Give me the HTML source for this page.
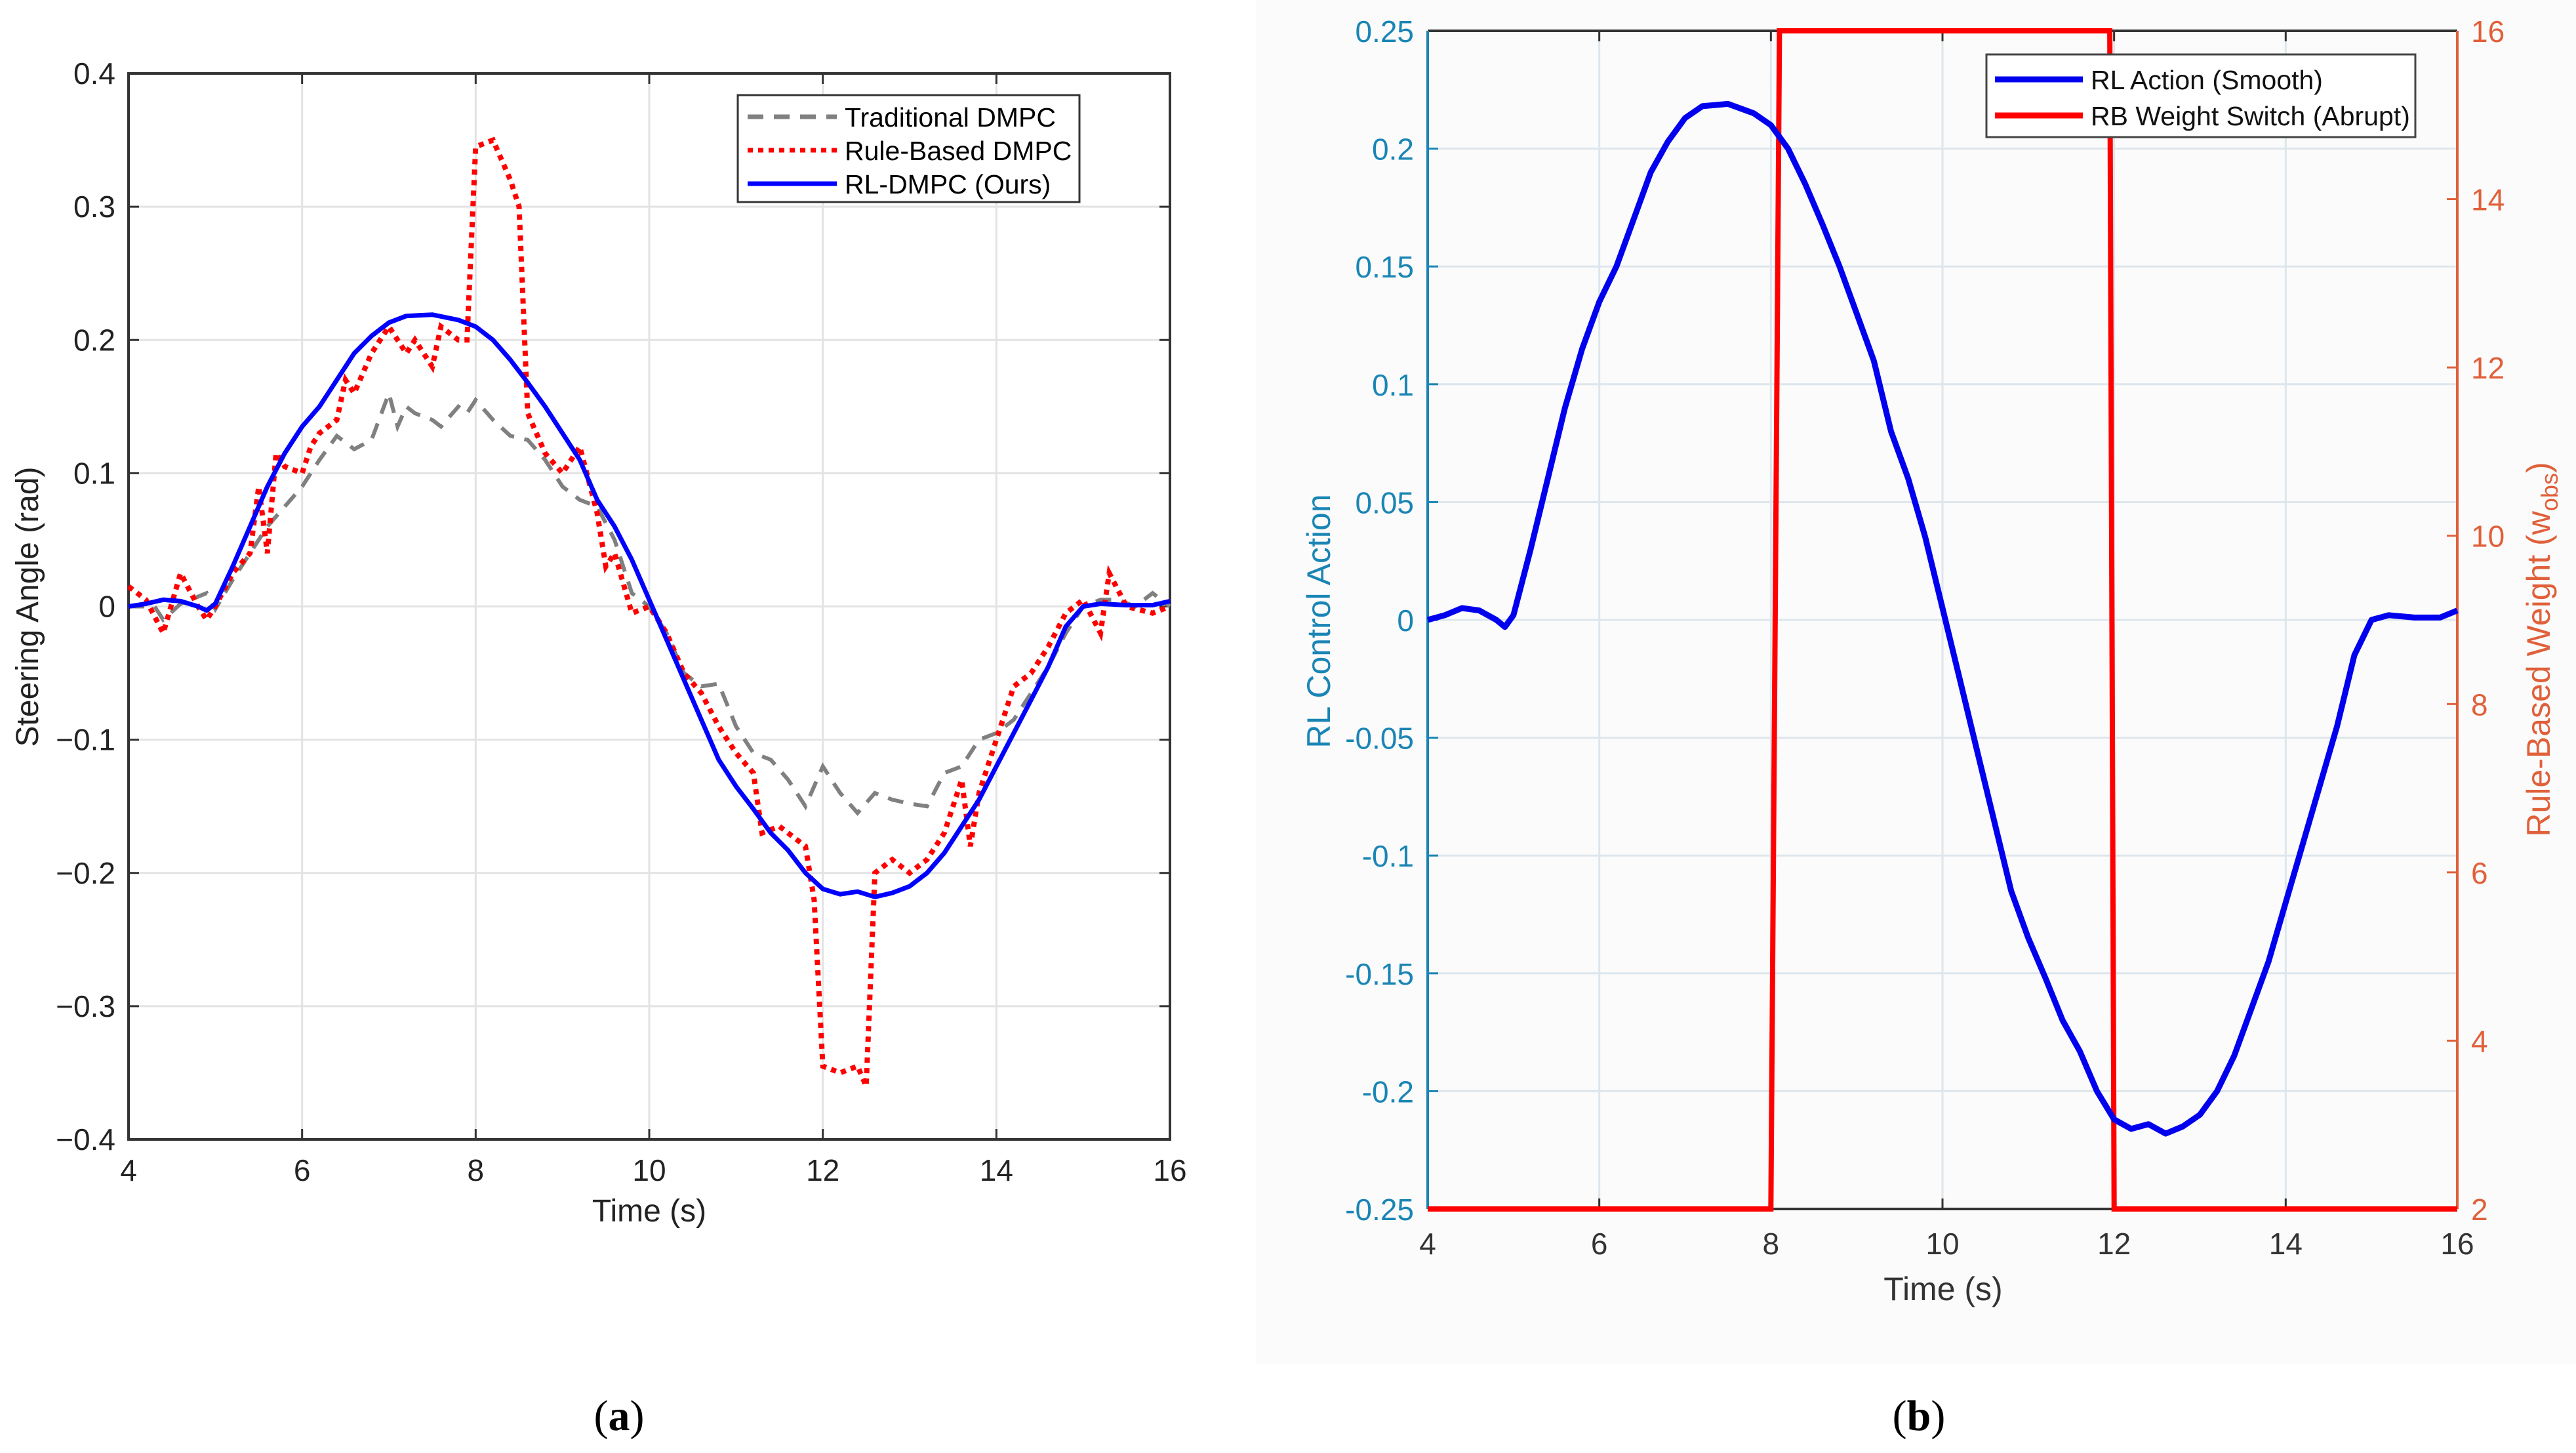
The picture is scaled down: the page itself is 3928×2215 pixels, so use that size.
<!DOCTYPE html>
<html><head><meta charset="utf-8"><style>
html,body{margin:0;padding:0;background:#fff}
svg{display:block;font-family:"Liberation Sans",Arial,sans-serif}
</style></head><body>
<svg id="fig" width="3928" height="2215" viewBox="0 0 3928 2215">
<rect x="0" y="0" width="3928" height="2215" fill="#fff"/>
<rect x="1915" y="0" width="2013" height="2080" fill="#fbfbfb"/>
<g id="pa"></g>
<g id="pb"></g>
<text x="944" y="2180" font-family="Liberation Serif,serif" font-size="66" text-anchor="middle">(<tspan font-weight="bold">a</tspan>)</text>
<text x="2926" y="2180" font-family="Liberation Serif,serif" font-size="66" text-anchor="middle">(<tspan font-weight="bold">b</tspan>)</text>
</svg>
<script>
// ---- Panel A data ----
const aTicksX = [4,6,8,10,12,14,16];
const aTicksY = [0.4,0.3,0.2,0.1,0,-0.1,-0.2,-0.3,-0.4];
const aTickYLabels = ["0.4","0.3","0.2","0.1","0","\u22120.1","\u22120.2","\u22120.3","\u22120.4"];
const rlT = [4.0,4.2,4.4,4.6,4.8,4.9,5.0,5.2,5.4,5.6,5.8,6.0,6.2,6.4,6.6,6.8,7.0,7.2,7.5,7.8,8.0,8.2,8.4,8.6,8.8,9.0,9.2,9.4,9.6,9.8,10.0,10.2,10.4,10.6,10.8,11.0,11.2,11.4,11.6,11.8,12.0,12.2,12.4,12.6,12.8,13.0,13.2,13.4,13.6,13.8,14.0,14.2,14.4,14.6,14.8,15.0,15.2,15.5,15.8,16.0];
const rlV = [0,0.002,0.005,0.004,0.0,-0.003,0.002,0.03,0.06,0.09,0.115,0.135,0.15,0.17,0.19,0.203,0.213,0.218,0.219,0.215,0.21,0.2,0.185,0.168,0.15,0.13,0.11,0.08,0.06,0.035,0.005,-0.025,-0.055,-0.085,-0.115,-0.135,-0.152,-0.17,-0.183,-0.2,-0.212,-0.216,-0.214,-0.218,-0.215,-0.21,-0.2,-0.185,-0.165,-0.145,-0.12,-0.095,-0.07,-0.045,-0.015,0.0,0.002,0.001,0.001,0.004];
const tradT = [4.0,4.3,4.4,4.6,4.9,5.0,5.2,5.4,5.6,5.8,6.0,6.2,6.4,6.6,6.8,7.0,7.1,7.2,7.3,7.5,7.6,7.8,7.9,8.0,8.2,8.4,8.6,8.8,9.0,9.2,9.4,9.6,9.8,10.0,10.2,10.4,10.6,10.8,11.0,11.2,11.4,11.6,11.8,12.0,12.2,12.4,12.6,12.8,13.0,13.2,13.4,13.6,13.8,14.0,14.2,14.4,14.6,14.8,15.0,15.2,15.4,15.6,15.8,16.0];
const tradV = [0,0.0,-0.01,0.002,0.01,-0.002,0.02,0.04,0.06,0.075,0.09,0.11,0.128,0.118,0.125,0.16,0.135,0.15,0.145,0.14,0.135,0.15,0.145,0.155,0.14,0.128,0.125,0.11,0.09,0.08,0.075,0.05,0.01,0.0,-0.02,-0.05,-0.06,-0.058,-0.09,-0.11,-0.115,-0.13,-0.15,-0.12,-0.14,-0.155,-0.14,-0.145,-0.148,-0.15,-0.125,-0.12,-0.1,-0.095,-0.085,-0.065,-0.045,-0.02,0.0,0.005,0.005,0.0,0.01,0.0];
const rbT = [4.0,4.2,4.4,4.6,4.8,4.9,5.0,5.2,5.4,5.5,5.6,5.7,5.8,6.0,6.1,6.2,6.4,6.5,6.6,6.8,7.0,7.2,7.3,7.5,7.6,7.8,7.9,8.0,8.2,8.4,8.5,8.6,8.8,9.0,9.2,9.4,9.5,9.6,9.8,10.0,10.2,10.4,10.6,10.8,11.0,11.2,11.3,11.5,11.6,11.8,11.9,12.0,12.2,12.4,12.5,12.6,12.8,13.0,13.2,13.4,13.6,13.7,13.8,14.0,14.2,14.4,14.6,14.8,15.0,15.2,15.3,15.5,15.8,16.0];
const rbV = [0.015,0.005,-0.02,0.025,0.0,-0.01,0.0,0.025,0.04,0.09,0.04,0.115,0.105,0.1,0.12,0.13,0.14,0.17,0.16,0.19,0.21,0.19,0.2,0.18,0.21,0.2,0.2,0.345,0.35,0.32,0.3,0.145,0.115,0.1,0.12,0.07,0.03,0.04,-0.005,0.0,-0.02,-0.05,-0.065,-0.09,-0.11,-0.125,-0.17,-0.165,-0.17,-0.18,-0.22,-0.345,-0.35,-0.345,-0.36,-0.2,-0.19,-0.2,-0.19,-0.17,-0.13,-0.18,-0.14,-0.1,-0.06,-0.05,-0.03,-0.005,0.005,-0.02,0.025,0.0,-0.005,0.0];
// ---- Panel B data ----
const bTicksY = [0.25,0.2,0.15,0.1,0.05,0,-0.05,-0.1,-0.15,-0.2,-0.25];
const bTickYLabels = ["0.25","0.2","0.15","0.1","0.05","0","-0.05","-0.1","-0.15","-0.2","-0.25"];
const bTicksY2 = [2,4,6,8,10,12,14,16];
const wT = [4,8.0,8.1,11.95,12.0,16];
const wV = [2,2,16,16,2,2];

const NS="http://www.w3.org/2000/svg";
function mk(parent,tag,attrs){const e=document.createElementNS(NS,tag);for(const k in attrs)e.setAttribute(k,attrs[k]);parent.appendChild(e);return e;}
function pathFrom(T,V,sx,sy){return T.map((t,i)=>(i?'L':'M')+sx(t).toFixed(1)+' '+sy(V[i]).toFixed(1)).join(' ');}

// Panel A
(function(){
const g=document.getElementById('pa');
const L=196,R=1784,T=112,B=1737;
const sx=t=>L+(t-4)/12*(R-L);
const sy=v=>T+(0.4-v)/0.8*(B-T);
aTicksX.forEach(t=>{
 const l=mk(g,'line',{x1:sx(t),x2:sx(t),y1:T,y2:B,stroke:'#e3e3e3','stroke-width':3});
 
 
 const tk=mk(g,'path',{d:`M${sx(t)} ${B}v-16M${sx(t)} ${T}v16`,stroke:'#333','stroke-width':3});
 
 
 const tx=mk(g,'text',{x:sx(t),y:1800,'font-size':46,'text-anchor':'middle',fill:'#222'});
 tx.textContent=t;
 
 
});
aTicksY.forEach((v,i)=>{
 const l=mk(g,'line',{x1:L,x2:R,y1:sy(v),y2:sy(v),stroke:'#e3e3e3','stroke-width':3});
 
 
 const tk=mk(g,'path',{d:`M${L} ${sy(v)}h16M${R} ${sy(v)}h-16`,stroke:'#333','stroke-width':3});
 
 
 const tx=mk(g,'text',{x:176,y:sy(v)+16,'font-size':46,'text-anchor':'end',fill:'#222'});
 tx.textContent=aTickYLabels[i];
 
 
});
const box=mk(g,'rect',{x:L,y:T,width:R-L,height:B-T,fill:'none',stroke:'#333','stroke-width':4});


const p1=mk(g,'path',{d:pathFrom(tradT,tradV,sx,sy),fill:'none',stroke:'#808080','stroke-width':6,'stroke-dasharray':'24 16'});


const p2=mk(g,'path',{d:pathFrom(rbT,rbV,sx,sy),fill:'none',stroke:'#ff0000','stroke-width':8,'stroke-dasharray':'8 8'});


const p3=mk(g,'path',{d:pathFrom(rlT,rlV,sx,sy),fill:'none',stroke:'#0000ff','stroke-width':7,'stroke-linejoin':'round'});


const xl=mk(g,'text',{x:990,y:1862,'font-size':48,'text-anchor':'middle',fill:'#222'});
xl.textContent='Time (s)';


const yl=mk(g,'text',{x:0,y:0,'font-size':48,'text-anchor':'middle',fill:'#222',transform:'translate(58 925) rotate(-90)'});
yl.textContent='Steering Angle (rad)';


const lg=mk(g,'g',{});


mk(lg,'rect',{x:1125,y:145,width:521,height:163,fill:'#fff',stroke:'#333','stroke-width':3});
const items=[['Traditional DMPC','#808080','24 16',178],['Rule-Based DMPC','#ff0000','8 8',229],['RL-DMPC (Ours)','#0000ff','none',280]];
items.forEach(it=>{
 const e=mk(lg,'g',{});
 
 
 mk(e,'line',{x1:1140,x2:1276,y1:it[3],y2:it[3],stroke:it[1],'stroke-width':7,'stroke-dasharray':it[2]});
 const t=mk(e,'text',{x:1288,y:it[3]+15,'font-size':41,fill:'#000'});
 t.textContent=it[0];
});
})();

// Panel B
(function(){
const g=document.getElementById('pb');
const L=2177,R=3747,T=47,B=1843;
const sx=t=>L+(t-4)/12*(R-L);
const sy=v=>T+(0.25-v)/0.5*(B-T);
const sy2=w=>B-(w-2)/14*(B-T);
aTicksX.forEach(t=>{
 const l=mk(g,'line',{x1:sx(t),x2:sx(t),y1:T,y2:B,stroke:'#dde6ec','stroke-width':3});
 
 
 const tk=mk(g,'path',{d:`M${sx(t)} ${B}v-16M${sx(t)} ${T}v16`,stroke:'#333','stroke-width':3});
 
 
 const tx=mk(g,'text',{x:sx(t),y:1912,'font-size':46,'text-anchor':'middle',fill:'#333'});
 tx.textContent=t;
 
 
});
bTicksY.forEach((v,i)=>{
 const l=mk(g,'line',{x1:L,x2:R,y1:sy(v),y2:sy(v),stroke:'#dde6ec','stroke-width':3});
 
 
 const tk=mk(g,'path',{d:`M${L} ${sy(v)}h16`,stroke:'#1a85b5','stroke-width':3});
 
 
 const tx=mk(g,'text',{x:2156,y:sy(v)+17,'font-size':46,'text-anchor':'end',fill:'#1a85b5'});
 tx.textContent=bTickYLabels[i];
 
 
});
bTicksY2.forEach(w=>{
 const tk=mk(g,'path',{d:`M${R} ${sy2(w)}h-16`,stroke:'#e0603a','stroke-width':3});
 
 
 const tx=mk(g,'text',{x:3768,y:sy2(w)+17,'font-size':46,fill:'#e0603a'});
 tx.textContent=w;
 
 
});
const top=mk(g,'path',{d:`M${L} ${T}H${R}M${L} ${B}H${R}`,stroke:'#333','stroke-width':4});


const la=mk(g,'line',{x1:L,x2:L,y1:T,y2:B,stroke:'#1a85b5','stroke-width':4});


const ra=mk(g,'line',{x1:R,x2:R,y1:T,y2:B,stroke:'#e0603a','stroke-width':4});


const pw=mk(g,'path',{d:pathFrom(wT,wV,sx,sy2),fill:'none',stroke:'#ff0000','stroke-width':8});


const pr=mk(g,'path',{d:pathFrom(rlT,rlV,sx,sy),fill:'none',stroke:'#0000ee','stroke-width':9,'stroke-linejoin':'round'});


const xl=mk(g,'text',{x:2963,y:1982,'font-size':50,'text-anchor':'middle',fill:'#333'});
xl.textContent='Time (s)';


const yl=mk(g,'text',{x:0,y:0,'font-size':50,'text-anchor':'middle',fill:'#1a85b5',transform:'translate(2028 947) rotate(-90)'});
yl.textContent='RL Control Action';


const y2=mk(g,'text',{x:0,y:0,'font-size':50,'text-anchor':'middle',fill:'#e0603a',transform:'translate(3888 990) rotate(-90)'});
y2.innerHTML='Rule-Based Weight (w<tspan font-size="36" dy="12">obs</tspan><tspan dy="-12">)</tspan>';


const lg=mk(g,'g',{});


mk(lg,'rect',{x:3029,y:83,width:654,height:126,fill:'#fff',stroke:'#444','stroke-width':3});
[['RL Action (Smooth)','#0000ee',121],['RB Weight Switch (Abrupt)','#ff0000',176]].forEach(it=>{
 const e=mk(lg,'g',{});
 
 
 mk(e,'line',{x1:3042,x2:3176,y1:it[2],y2:it[2],stroke:it[1],'stroke-width':9});
 const t=mk(e,'text',{x:3188,y:it[2]+15,'font-size':41,fill:'#111'});
 t.textContent=it[0];
});
})();
</script>
</body></html>
